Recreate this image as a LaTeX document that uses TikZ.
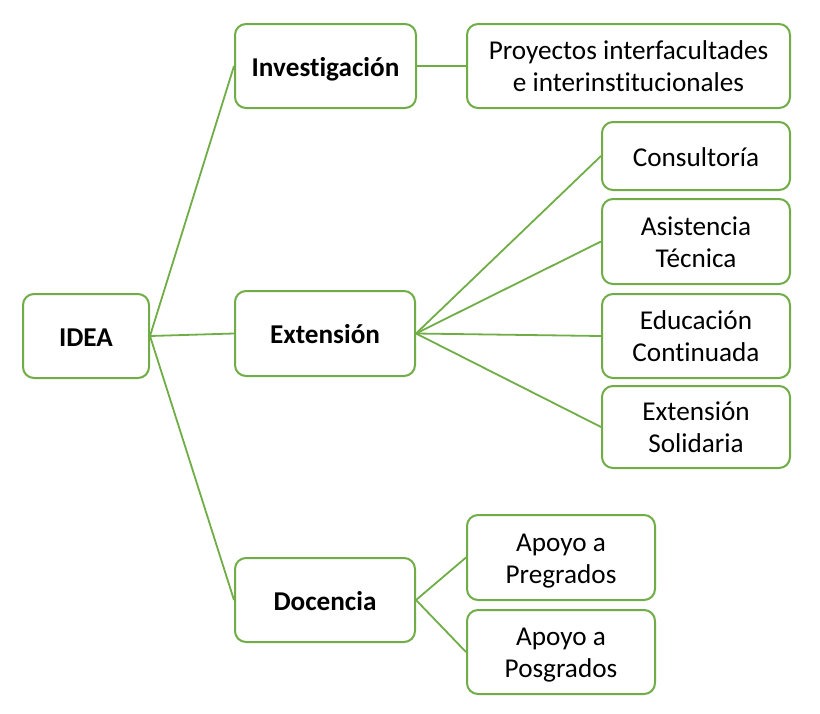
\documentclass[tikz,border=0pt]{standalone}
\usepackage{fontspec}
\setmainfont{Carlito}[Ligatures=NoCommon]
\definecolor{grn}{RGB}{112,173,71}
\newcommand\twoln[2]{\begin{tabular}{@{}c@{}}\rule{0pt}{29.5pt}#1\\#2\end{tabular}}
\tikzset{
  bxbase/.style={draw=grn, line width=2pt, fill=white, rounded corners=11pt,
    inner sep=0pt, font=\fontsize{27.2pt}{32pt}\selectfont},
  bx/.style={bxbase,
    execute at begin node={\rule{0pt}{26pt}},
    execute at end node={\rule[-6pt]{0pt}{0pt}}},
  bx2/.style={bxbase},
  bb/.style={bx, font=\fontsize{27.2pt}{32pt}\selectfont\bfseries},
  ln/.style={draw=grn, line width=1.8pt},
}
\begin{document}
\begin{tikzpicture}[x=1pt,y=-1pt]
\useasboundingbox (0,0) rectangle (820,713);
\node[bb, minimum width=126pt, minimum height=84pt] (idea) at (86,336) {IDEA};
\node[bb, minimum width=181pt, minimum height=84pt] (inv) at (325.5,66) {Investigación};
\node[bb, minimum width=180pt, minimum height=85pt] (ext) at (325,333.5) {Extensión};
\node[bb, minimum width=180pt, minimum height=84pt] (doc) at (325,600) {Docencia};
\node[bx2, minimum width=323pt, minimum height=84pt] (pro) at (628.5,66) {\twoln{Proyectos interfacultades}{e interinstitucionales}};
\node[bx, minimum width=188pt, minimum height=68pt] (con) at (696,156) {Consultoría};
\node[bx2, minimum width=188pt, minimum height=85pt] (asi) at (696,241.5) {\twoln{Asistencia}{Técnica}};
\node[bx2, minimum width=188pt, minimum height=84pt] (edu) at (696,336) {\twoln{Educación}{Continuada}};
\node[bx2, minimum width=188pt, minimum height=82pt] (sol) at (696,427) {\twoln{Extensión}{Solidaria}};
\node[bx2, minimum width=188pt, minimum height=85pt] (pre) at (561,557.5) {\twoln{Apoyo a}{Pregrados}};
\node[bx2, minimum width=188pt, minimum height=84pt] (pos) at (561,652) {\twoln{Apoyo a}{Posgrados}};
\draw[ln] (idea.east) -- (inv.west);
\draw[ln] (idea.east) -- (ext.west);
\draw[ln] (idea.east) -- (doc.west);
\draw[ln] (inv.east) -- (pro.west);
\draw[ln] (ext.east) -- (con.west);
\draw[ln] (ext.east) -- (asi.west);
\draw[ln] (ext.east) -- (edu.west);
\draw[ln] (ext.east) -- (sol.west);
\draw[ln] (doc.east) -- (pre.west);
\draw[ln] (doc.east) -- (pos.west);
\end{tikzpicture}
\end{document}
